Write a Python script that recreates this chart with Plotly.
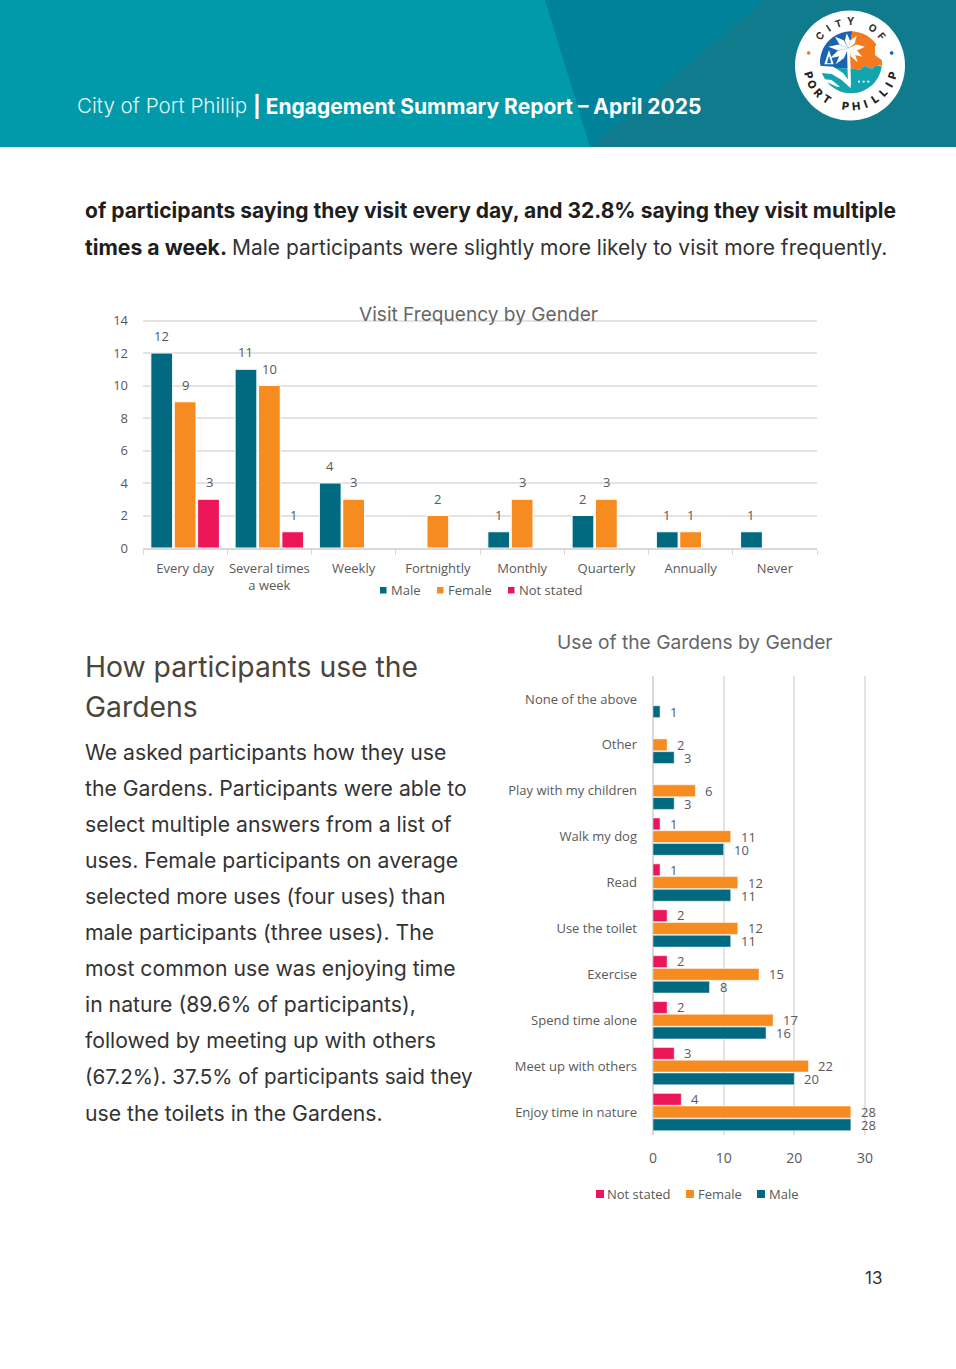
import math
import plotly.graph_objects as go

W, H = 956, 1369

# ---------- data ----------
freq_categories = ["Every day", "Several times<br>a week", "Weekly", "Fortnightly", "Monthly", "Quarterly", "Annually", "Never"]
freq_male = [12, 11, 4, None, 1, 2, 1, 1]
freq_female = [9, 10, 3, 2, 3, 3, 1, None]
freq_not_stated = [3, 1, None, None, None, None, None, None]

use_categories = ["Enjoy time in nature", "Meet up with others", "Spend time alone", "Exercise", "Use the toilet",
                  "Read", "Walk my dog", "Play with my children", "Other", "None of the above"]
use_male = [28, 20, 16, 8, 11, 11, 10, 3, 3, 1]
use_female = [28, 22, 17, 15, 12, 12, 11, 6, 2, None]
use_not_stated = [4, 3, 2, 2, 2, 1, 1, None, None, None]

TEAL, ORANGE, PINK = "#016A80", "#F68B1F", "#EC1558"
GREY = "#595959"
GRID = "#E3E3E3"
CHART_FONT = "Open Sans"
DOC_FONT = "Inter"

def px(x): return x / W
def py(y): return 1 - y / H

fig = go.Figure()

# ---------- bars ----------
for name, vals, col in [("Male", freq_male, TEAL), ("Female", freq_female, ORANGE), ("Not stated", freq_not_stated, PINK)]:
    fig.add_bar(x=freq_categories, y=vals, name=name, marker=dict(color=col, line=dict(color="white", width=1)),
                xaxis="x", yaxis="y", showlegend=False, hoverinfo="skip")
for name, vals, col in [("Male", use_male, TEAL), ("Female", use_female, ORANGE), ("Not stated", use_not_stated, PINK)]:
    fig.add_bar(y=use_categories, x=vals, name=name, orientation="h", marker=dict(color=col, line=dict(color="white", width=0.5)),
                xaxis="x2", yaxis="y2", showlegend=False, hoverinfo="skip")

annotations = []
shapes = []

def text(x, y, s, size, color, anchor="left", weight=400, family=DOC_FONT, angle=0):
    annotations.append(dict(xref="paper", yref="paper", x=px(x), y=py(y), text=s, showarrow=False,
                            xanchor=anchor, yanchor="middle", textangle=angle, borderpad=0, borderwidth=0,
                            font=dict(family=family, size=size, color=color, weight=weight)))

def poly(points, color):
    d = "M" + " L".join(f"{px(a):.5f},{py(b):.5f}" for a, b in points) + " Z"
    shapes.append(dict(type="path", xref="paper", yref="paper", path=d, fillcolor=color, line=dict(width=0), layer="below"))

def rect(x0, y0, x1, y1, color):
    shapes.append(dict(type="rect", xref="paper", yref="paper", x0=px(x0), x1=px(x1), y0=py(y1), y1=py(y0),
                       fillcolor=color, line=dict(width=0), layer="below"))

def disc(cx, cy, r, color, n=72):
    poly([(cx + r * math.cos(2 * math.pi * i / n), cy + r * math.sin(2 * math.pi * i / n)) for i in range(n)], color)

# ---------- data labels ----------
for vals, shift in [(freq_male, -24), (freq_female, 0), (freq_not_stated, 24)]:
    for c, v in zip(freq_categories, vals):
        if v is not None:
            annotations.append(dict(xref="x", yref="y", x=c, y=v, text=str(v), showarrow=False, xshift=shift, yshift=17,
                                    yanchor="middle", font=dict(family=CHART_FONT, size=13, color=GREY)))
for vals, shift in [(use_male, -13), (use_female, 0), (use_not_stated, 13)]:
    for c, v in zip(use_categories, vals):
        if v is not None:
            annotations.append(dict(xref="x2", yref="y2", x=v, y=c, text=str(v), showarrow=False, xshift=8, yshift=shift,
                                    xanchor="left", yanchor="middle", font=dict(family=CHART_FONT, size=13, color=GREY)))

# ---------- header ----------
rect(0, 0, W, 147, "#009AAB")
poly([(545, 0), (765, 0), (590, 147)], "#00829A")
poly([(765, 0), (W, 0), (W, 147), (590, 147)], "#0F7B8C")
text(77, 106, "City of Port Phillip", 20.6, "#E6F5F7", weight=300)
text(253, 106, "| Engagement Summary Report – April 2025", 21, "white", weight=700)

# ---------- logo ----------
def z(a, b): return (785 + a / 3, 5 + b / 3)
disc(850, 65.5, 55, "white")
def arc(c, r, a0, a1, n=24):
    return [(c[0] + r * math.cos(math.radians(a0 + (a1 - a0) * i / n)), c[1] + r * math.sin(math.radians(a0 + (a1 - a0) * i / n))) for i in range(n + 1)]
C = z(198, 172)
poly(arc(C, 31, 180, 272) + [z(192, 190), z(107, 190)], "#1A63AE")
poly(arc(C, 31, 272, 325) + [z(270, 125), z(270, 150), z(290, 165), z(292, 182), z(275, 180), z(260, 192), z(240, 182), z(225, 195), z(197, 190), z(190, 150)], "#F47A20")
poly([z(197, 190), z(225, 195), z(240, 182), z(260, 192), z(275, 180), z(292, 185)] + arc(C, 31, 5, 175) + [z(107, 188)], "#12A5AE")
poly([z(104, 182), z(145, 185), z(175, 205), z(197, 235), z(197, 250), z(170, 225), z(140, 207), z(104, 203)], "white")
poly([z(110, 222), z(140, 225), z(165, 245), z(155, 245), z(130, 233), z(112, 232)], "white")
poly([z(186, 130), z(195, 130), z(198, 240), z(189, 240)], "white")
for tip, w in [((130, 125), 9), ((150, 95), 9), ((185, 85), 8), ((215, 92), 8), ((240, 125), 9), ((135, 160), 9), ((152, 178), 8), ((232, 155), 8), ((218, 172), 7)]:
    bx, by = 190, 130
    mx, my = (bx + tip[0]) / 2, (by + tip[1]) / 2
    dx, dy = tip[0] - bx, tip[1] - by
    L = math.hypot(dx, dy)
    poly([z(bx, by), z(mx - dy / L * w, my + dx / L * w), z(*tip), z(mx + dy / L * w, my - dx / L * w)], "white")
poly([z(118, 178), z(132, 135), z(146, 178)], "white")
poly([z(126, 175), z(132, 152), z(139, 175)], "#1A63AE")
for a in (222, 236, 250):
    disc(*z(a, 230), 1.1, "white", n=12)
disc(*z(71, 144), 1.8, "#F47A20", n=16)
disc(*z(320, 144), 1.8, "#1A63AE", n=16)
lc = z(197, 172)
for i, ch in enumerate("CITY OF"):
    if ch == " ":
        continue
    a = -50 + i * 100 / 6
    text(lc[0] + 41 * math.sin(math.radians(a)), lc[1] - 41 * math.cos(math.radians(a)), ch, 10, "#2E2E2E", "center", 700, angle=a)
for i, ch in enumerate("PORT PHILLIP"):
    if ch == " ":
        continue
    a = 73 - i * 146 / 11
    text(lc[0] - 44 * math.sin(math.radians(a)), lc[1] + 44 * math.cos(math.radians(a)), ch, 11, "#222222", "center", 800, angle=a)

# ---------- page text ----------
text(85, 211, "of participants saying they visit every day, and 32.8% saying they visit multiple", 21, "#1E1E1E", weight=700)
text(85, 247, "times a week.", 21.2, "#1E1E1E", weight=700)
text(232, 247, "Male participants were slightly more likely to visit more frequently.", 21, "#333333")
text(478.5, 314, "Visit Frequency by Gender", 19.1, "#666666", "center")
text(694.5, 642, "Use of the Gardens by Gender", 19.2, "#666666", "center")
text(85, 667, "How participants use the", 28.3, "#4A453C")
text(85, 707, "Gardens", 28.3, "#4A453C")
body_lines = ["We asked participants how they use", "the Gardens. Participants were able to",
              "select multiple answers from a list of", "uses. Female participants on average",
              "selected more uses (four uses) than", "male participants (three uses). The",
              "most common use was enjoying time", "in nature (89.6% of participants),",
              "followed by meeting up with others", "(67.2%). 37.5% of participants said they",
              "use the toilets in the Gardens."]
for i, line in enumerate(body_lines):
    text(85, 752 + i * 36.05, line, 20.6 if line.startswith("(67") else 21.2, "#333333")
text(873, 1278, "13", 17, "#333333", "center")

# ---------- legends ----------
for sx, tx, label, col, y in [(380, 391, "Male", TEAL, 590), (437, 448, "Female", ORANGE, 590), (508, 519, "Not stated", PINK, 590)]:
    rect(sx, y - 3, sx + 6.5, y + 3.5, col)
    text(tx, y, label, 13, GREY, family=CHART_FONT)
for sx, tx, label, col, y in [(596, 607, "Not stated", PINK, 1194), (686, 698, "Female", ORANGE, 1194), (757, 769, "Male", TEAL, 1194)]:
    rect(sx, y - 4, sx + 8, y + 4, col)
    text(tx, y, label, 13, GREY, family=CHART_FONT)

axis_font = dict(family=CHART_FONT, size=13, color=GREY)
fig.update_layout(
    template="none",
    width=W, height=H, margin=dict(l=0, r=0, t=0, b=0, pad=0), paper_bgcolor="white", plot_bgcolor="rgba(0,0,0,0)",
    barmode="group", bargap=0.167, bargroupgap=0.07, showlegend=False, hovermode=False,
    font=axis_font, shapes=shapes, annotations=annotations,
    xaxis=dict(domain=[px(143), px(817)], anchor="y", type="category", tickson="boundaries", ticks="outside", ticklen=5,
               tickcolor="#D9D9D9", linecolor="#D9D9D9", linewidth=1.5, showline=True, showgrid=False, tickfont=axis_font,
               ticklabelstandoff=8, tickangle=0, range=[-0.5, 7.5], fixedrange=True, automargin=False),
    yaxis=dict(domain=[py(548), py(318.9)], anchor="x", range=[0, 14.1], tick0=0, dtick=2, showgrid=True, gridcolor=GRID, gridwidth=1.5,
               zeroline=False, showline=False, ticks="", tickfont=axis_font, ticklabelstandoff=14, fixedrange=True, automargin=False),
    xaxis2=dict(domain=[px(653), px(866.06)], anchor="y2", range=[0, 30.15], tick0=0, dtick=10, showgrid=True, gridcolor=GRID, gridwidth=1.5,
                zeroline=True, zerolinecolor="#D9D9D9", zerolinewidth=1.5, showline=False, ticks="", tickfont=dict(family=CHART_FONT, size=14, color=GREY),
                ticklabelstandoff=13, fixedrange=True, automargin=False),
    yaxis2=dict(domain=[py(1135), py(676)], anchor="x2", type="category", categoryorder="array", categoryarray=use_categories,
                range=[-0.5, 9.5], showgrid=False, showline=False, ticks="", tickfont=axis_font, ticklabelstandoff=15, fixedrange=True, automargin=False),
)

post = """
document.documentElement.style.cssText='margin:0;padding:0;overflow:hidden;background:white';
document.body.style.cssText='margin:0;padding:0;overflow:hidden;background:white';
var gd=document.getElementById('{plot_id}');
gd.style.position='absolute';gd.style.left='0';gd.style.top='0';
"""
fig.write_html("out.html", config=dict(displayModeBar=False), post_script=post)
